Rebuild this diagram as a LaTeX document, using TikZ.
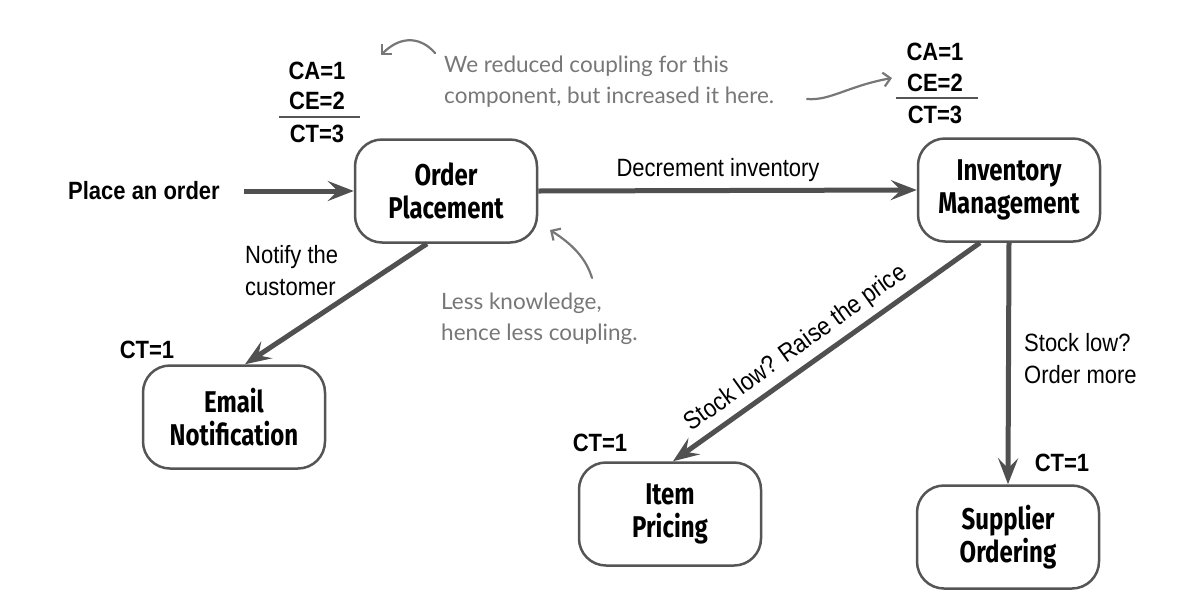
\documentclass[tikz,border=0pt]{standalone}
\usepackage{fontspec}
\setmainfont{Liberation Sans}
\newfontfamily\labfont[FakeStretch=0.88]{Liberation Sans}
\newfontfamily\boxfont[FakeStretch=0.8]{Fira Sans}
\newfontfamily\handfont{Lato}
\usetikzlibrary{arrows.meta,calc}
\definecolor{boxgray}{HTML}{555555}
\definecolor{flowgray}{HTML}{505050}
\definecolor{notegray}{HTML}{777777}
\tikzset{
  box/.style={draw=boxgray, line width=2.5pt, rounded corners=27pt,
    minimum width=182pt, minimum height=103pt, align=center, fill=white,
    font=\boxfont\bfseries\fontsize{30}{33}\selectfont},
  flow/.style={draw=flowgray, line width=5pt,
    -{Stealth[length=26pt,width=20pt,inset=10pt]}},
  met/.style={font=\labfont\bfseries\fontsize{25}{30}\selectfont, inner sep=0pt},
  lab/.style={font=\labfont\fontsize{25}{32}\selectfont, inner sep=0pt, align=left},
  note/.style={font=\handfont\fontsize{22.5}{31}\selectfont, text=notegray,
    inner sep=0pt, align=left},
  notearrow/.style={draw=notegray, line width=2.2pt, line cap=round,
    -{Straight Barb[length=7pt,width=14pt]}},
  sepline/.style={draw=boxgray, line width=2.5pt}
}
\begin{document}
\begin{tikzpicture}[x=1pt,y=-1pt]
\useasboundingbox (0,0) rectangle (1192,614);

% boxes
\node[box] (order) at (446,191) {Order\\Placement};
\node[box] (inv) at (1009,190) {Inventory\\Management};
\node[box] (email) at (234,417) {Email\\Notification};
\node[box] (item) at (670,514) {Item\\Pricing};
\node[box] (sup) at (1008,537) {Supplier\\Ordering};

% incoming order
\node[met, anchor=east] (place) at (220,191) {Place an order};
\draw[flow] ([xshift=24pt]place.east) -- (order.west);

% connectors
\draw[flow] (order.east) -- (inv.west);
\node[lab] (dec) at (718,170) {Decrement inventory};

\draw[flow] ([xshift=-19pt]order.south) -- ([xshift=11pt]email.north);
\node[lab, anchor=west] (notify) at (245,271) {Notify the\\customer};

\draw[flow] ([xshift=-29pt]inv.south) -- node[pos=0.56, rotate=35.7, anchor=south, inner sep=6pt, font=\labfont\fontsize{25.5}{30}\selectfont] (raise) {Stock low? Raise the price} ([xshift=3pt]item.north);

\draw[flow] (inv.south) -- (sup.north);
\node[lab, anchor=west] (ordmore) at (1024,359) {Stock low?\\Order more};

% metrics
\node[met] (ca1) at (317,71) {CA=1};
\node[met] (ce1) at (317,101) {CE=2};
\coordinate (l1a) at (279,117);
\coordinate (l1b) at (360,117);
\draw[sepline] (l1a) -- (l1b);
\node[met] (ct1) at (317,134) {CT=3};

\node[met] (ca2) at (935,52) {CA=1};
\node[met] (ce2) at (935,83) {CE=2};
\coordinate (l2a) at (896,98);
\coordinate (l2b) at (978,98);
\draw[sepline] (l2a) -- (l2b);
\node[met] (ct2) at (935,115) {CT=3};

\node[met] (cte) at (147,350) {CT=1};
\node[met] (cti) at (600,443) {CT=1};
\node[met] (cts) at (1062,463) {CT=1};

% annotations
\node[note, anchor=west] (n1) at (444,82) {We reduced coupling for this\\component, but increased it here.};
\node[note, anchor=west] (n2) at (441,319) {Less knowledge,\\hence less coupling.};

\coordinate (a1s) at (435,53);
\coordinate (a1e) at (381,55);
\draw[notearrow] (a1s) .. controls (422,38) and (402,34) .. (a1e);
\coordinate (a2s) at (807,99);
\coordinate (a2e) at (892,78);
\draw[notearrow] (a2s) .. controls (830,101) and (848,86) .. (a2e);
\coordinate (a3s) at (592,278);
\coordinate (a3e) at (550,230);
\draw[notearrow] (a3s) .. controls (586,258) and (572,244) .. (a3e);
\end{tikzpicture}
\end{document}
